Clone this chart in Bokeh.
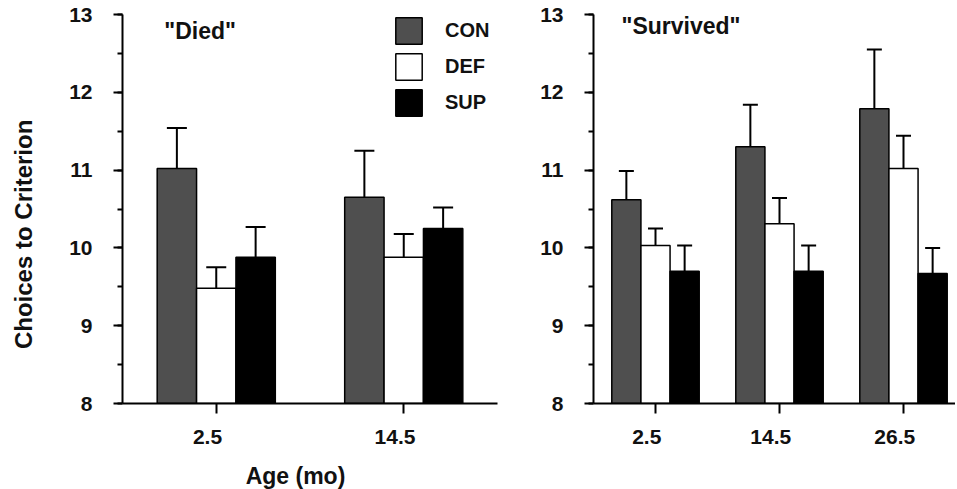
import numpy as np
from bokeh.plotting import figure
from bokeh.layouts import row, column
from bokeh.models import (ColumnDataSource, Whisker, TeeHead, FixedTicker,
                          SingleIntervalTicker, Label, Range1d, Legend, LegendItem)
from bokeh.embed import file_html
from bokeh.resources import INLINE

# ---- data ----
groups = ["CON", "DEF", "SUP"]
fills = ["#4f4f4f", "#ffffff", "#000000"]

died_ages = ["2.5", "14.5"]
died_con = [11.02, 10.65]
died_def = [9.48, 9.88]
died_sup = [9.88, 10.25]
died_con_sem = [0.52, 0.60]
died_def_sem = [0.27, 0.30]
died_sup_sem = [0.39, 0.27]

surv_ages = ["2.5", "14.5", "26.5"]
surv_con = [10.62, 11.30, 11.79]
surv_def = [10.03, 10.31, 11.02]
surv_sup = [9.70, 9.70, 9.67]
surv_con_sem = [0.37, 0.54, 0.76]
surv_def_sem = [0.22, 0.33, 0.42]
surv_sup_sem = [0.33, 0.33, 0.33]

y_min, y_max = 8, 13

FONT = "Liberation Sans"
H = 460          # height of the chart row
HB = 29          # height of the strip holding the x-axis title
WL = 44          # width of the strip holding the y-axis title
PAD = "\u00a0\u00a0\u00a0"  # nudges tick labels slightly left of the tick, as in the original


def bold_label(**kw):
    return Label(text_font=FONT, text_font_style="bold", text_color="#111111", **kw)


def make_panel(ages, means, sems, width, bl, br, x_end, bar_w, head, title, title_x, title_y):
    p = figure(width=width, height=H, output_backend="svg", toolbar_location=None,
               x_range=Range1d(-0.5, x_end), y_range=Range1d(y_min, y_max),
               min_border_left=bl, min_border_right=br, min_border_top=14,
               min_border_bottom=H - 14 - 389)
    p.outline_line_color = None
    p.grid.visible = False
    p.background_fill_color = "white"
    p.border_fill_color = "white"
    xs = np.arange(len(ages))
    offsets = [-bar_w, 0.0, bar_w]
    renderers = []
    for g, fill, m, s, off in zip(groups, fills, means, sems, offsets):
        src = ColumnDataSource(dict(x=xs + off, top=m,
                                    upper=np.array(m) + np.array(s), lower=m))
        r = p.vbar(x="x", top="top", bottom=y_min, width=bar_w, source=src,
                   fill_color=fill, line_color="black", line_width=1.5)
        renderers.append((g, r))
        w = Whisker(base="x", upper="upper", lower="lower", source=src,
                    line_color="black", line_width=2, lower_head=None,
                    upper_head=TeeHead(size=head, line_width=2, line_color="black"),
                    level="overlay")
        p.add_layout(w)
    for ax in (p.xaxis[0], p.yaxis[0]):
        ax.axis_line_width = 2
        ax.major_tick_line_width = 2
        ax.minor_tick_line_width = 2
        ax.major_tick_in = 0
        ax.minor_tick_in = 0
        ax.major_label_text_font = FONT
        ax.major_label_text_font_style = "bold"
        ax.major_label_text_font_size = "21px"
        ax.major_label_text_color = "#111111"
    p.xaxis.ticker = FixedTicker(ticks=list(xs))
    p.xaxis.major_label_overrides = {int(i): a + PAD for i, a in zip(xs, ages)}
    p.xaxis.major_tick_out = 10
    p.xaxis.minor_tick_out = 0
    p.xaxis.major_label_standoff = 11
    p.yaxis.ticker = SingleIntervalTicker(interval=1, num_minor_ticks=2)
    p.yaxis.major_tick_out = 9
    p.yaxis.minor_tick_out = 5
    p.yaxis.major_label_standoff = 21
    p.add_layout(bold_label(x=title_x, y=title_y, text=title, text_font_size="23px",
                            text_baseline="middle", text_align="left"))
    return p, renderers


def text_strip(width, height):
    s = figure(width=width, height=height, output_backend="svg", toolbar_location=None,
               x_range=Range1d(0, width), y_range=Range1d(height, 0),
               x_axis_type=None, y_axis_type=None, min_border=0)
    s.outline_line_color = None
    s.grid.visible = False
    s.background_fill_color = "white"
    s.border_fill_color = "white"
    return s


p1, rs = make_panel(died_ages, [died_con, died_def, died_sup],
                    [died_con_sem, died_def_sem, died_sup_sem],
                    530 - WL, 122 - WL, 33, 1.5, 0.21, 20, '"Died"', -0.277, 12.79)
p2, _ = make_panel(surv_ages, [surv_con, surv_def, surv_sup],
                   [surv_con_sem, surv_def_sem, surv_sup_sem],
                   425, 63, 0, -0.5 + 362 / 124, 0.235, 15, '"Survived"', -0.274, 12.85)

legend = Legend(items=[LegendItem(label=g, renderers=[r]) for g, r in rs],
                location=(270, 284), glyph_width=33, glyph_height=33, spacing=3,
                label_standoff=20, padding=0, margin=0, border_line_alpha=0,
                background_fill_alpha=0, label_text_font=FONT,
                label_text_font_style="bold", label_text_font_size="20px",
                label_text_color="#111111")
p1.add_layout(legend)

# y-axis title strip (left of the first panel)
pl = text_strip(WL, H)
pl.add_layout(bold_label(x=22.5, y=260, text="Choices to Criterion", angle=np.pi / 2,
                         text_font_size="24px", text_align="center", text_baseline="middle"))

# x-axis title strip (below the panels)
pb = text_strip(955, HB)
pb.add_layout(bold_label(x=295, y=15, text="Age (mo)", text_font_size="23px",
                         text_align="center", text_baseline="middle"))

layout = column(row(pl, p1, p2), pb)
open("out.html", "w").write(file_html(layout, INLINE))
